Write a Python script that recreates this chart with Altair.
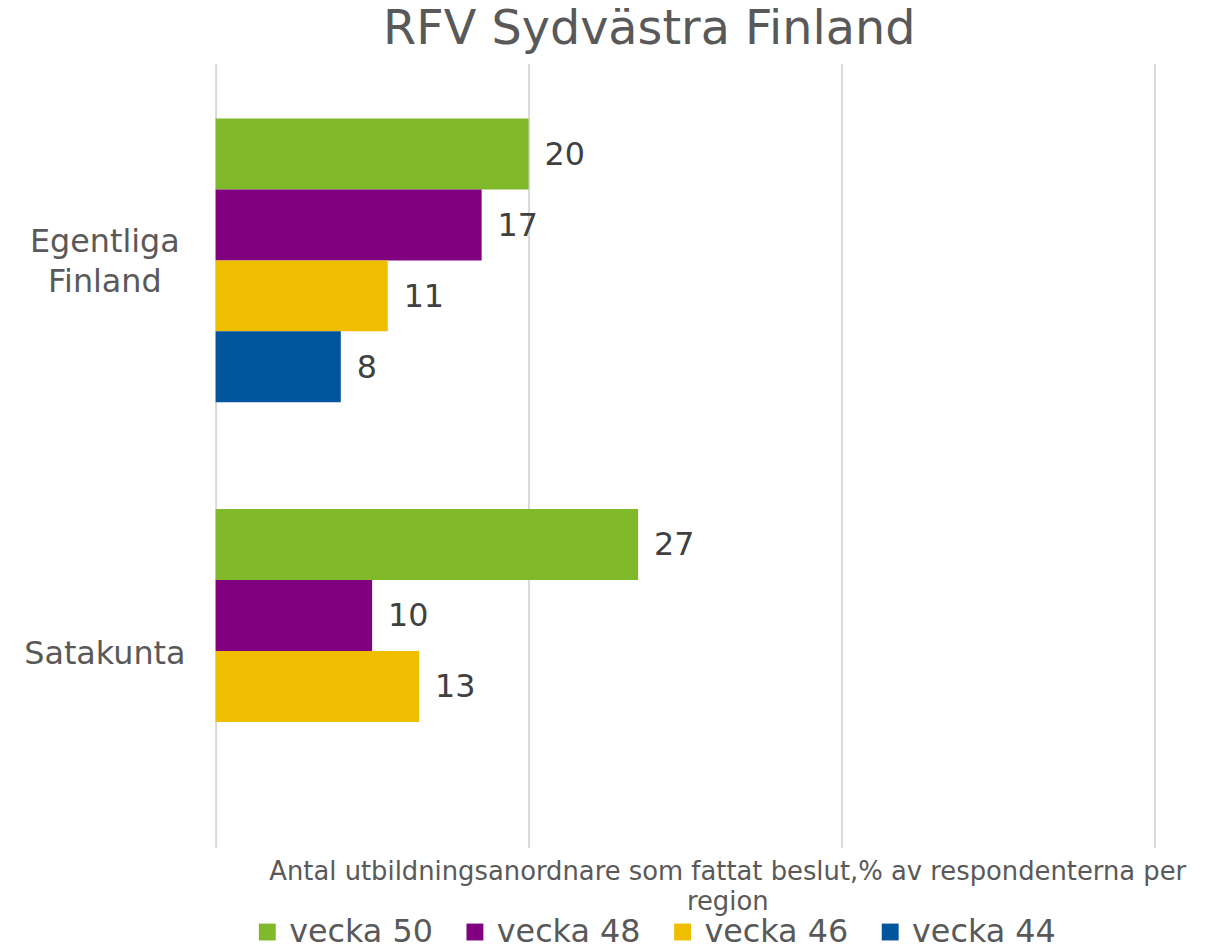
import altair as alt
import pandas as pd

regions = ["Egentliga Finland", "Egentliga Finland", "Egentliga Finland", "Egentliga Finland",
           "Satakunta", "Satakunta", "Satakunta"]
weeks = ["vecka 50", "vecka 48", "vecka 46", "vecka 44",
         "vecka 50", "vecka 48", "vecka 46"]
values = [20, 17, 11, 8, 27, 10, 13]

week_order = ["vecka 50", "vecka 48", "vecka 46", "vecka 44"]
week_colors = ["#80BA2A", "#800080", "#F0BE00", "#00559C"]
region_order = ["Egentliga Finland", "Satakunta"]

df = pd.DataFrame({"region": regions, "week": weeks, "value": values})

FONT = "DejaVu Sans"

base = alt.Chart(df).encode(
    y=alt.Y("region:N", sort=region_order,
            scale=alt.Scale(paddingInner=0.273, paddingOuter=0.14),
            axis=alt.Axis(title=None, domain=False, ticks=False,
                          labelFont=FONT, labelFontSize=32, labelColor="#595959",
                          labelAlign="center", labelPadding=112, labelLineHeight=40,
                          labelExpr="datum.label == 'Egentliga Finland' ? ['Egentliga', 'Finland'] : datum.label",
                          labelOffset={"condition": {"test": "datum.value == 'Egentliga Finland'", "value": -18},
                                       "value": 3})),
    yOffset=alt.YOffset("week:N", sort=week_order, scale=alt.Scale(paddingInner=0, paddingOuter=0)),
)

bars = base.mark_bar().encode(
    x=alt.X("value:Q", scale=alt.Scale(domain=[0, 60]),
            axis=alt.Axis(values=[0, 20, 40, 60], labels=False, ticks=False, domain=False,
                          grid=True, gridColor="#D9D9D9", gridWidth=2,
                          title=["Antal utbildningsanordnare som fattat beslut,% av respondenterna per", "region"],
                          titleFont=FONT, titleFontSize=26, titleFontWeight="normal",
                          titleColor="#595959", titleX=515, titleY=11, titleLineHeight=30,
                          titleBaseline="top")),
    color=alt.Color("week:N", sort=week_order,
                    scale=alt.Scale(domain=week_order, range=week_colors),
                    legend=alt.Legend(title=None, orient="none", legendX=36, legendY=858,
                                      direction="horizontal", columns=4,
                                      symbolType="square", symbolSize=289,
                                      symbolStrokeWidth=0, labelFont=FONT,
                                      labelFontSize=32, labelColor="#595959",
                                      labelOffset=6, columnPadding=26)),
)

labels = base.mark_text(align="left", baseline="middle", dx=16, dy=1, font=FONT,
                        fontSize=32, color="#404040").encode(
    x=alt.X("value:Q"),
    text=alt.Text("value:Q"),
)

chart = (bars + labels).properties(
    width=945, height=789,
    autosize=alt.AutoSizeParams(type="none"),
    padding={"left": 209, "top": 53, "right": 68, "bottom": 100},
    title=alt.TitleParams("RFV Sydvästra Finland", font=FONT, fontSize=48,
                          fontWeight="normal", color="#595959", anchor="middle",
                          dx=-36, offset=10),
).configure_view(stroke=None)

chart.save("out.html", embed_options={"renderer": "svg", "actions": False})
